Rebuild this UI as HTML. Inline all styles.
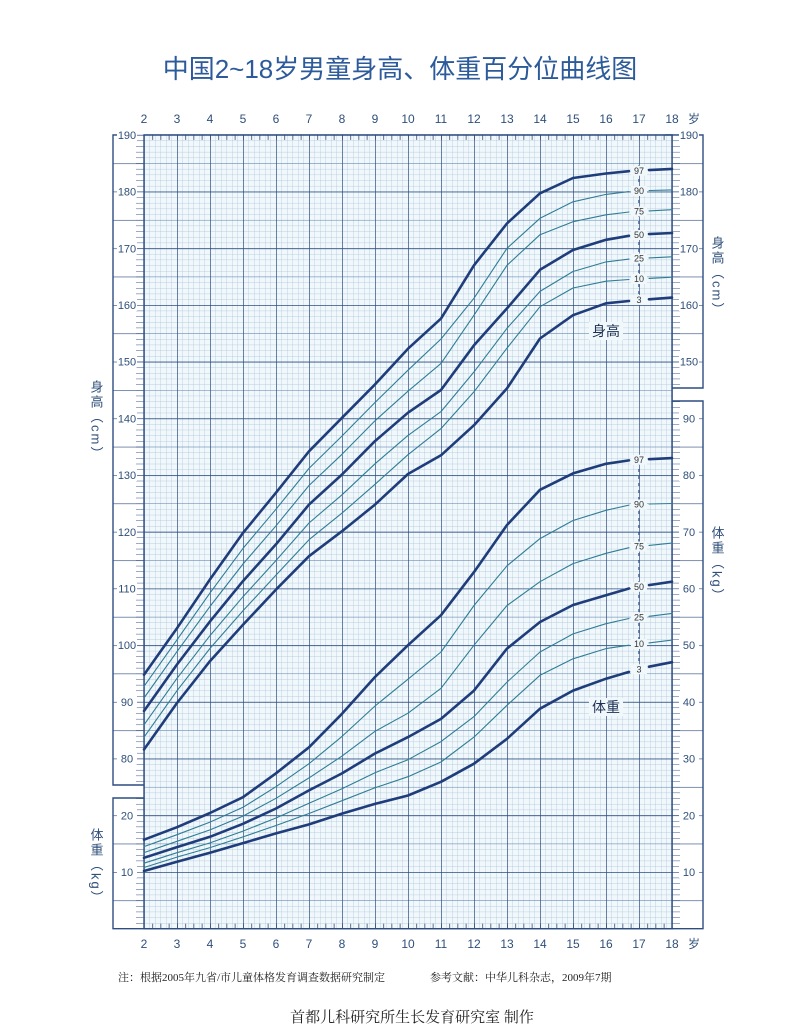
<!DOCTYPE html>
<html><head><meta charset="utf-8"><style>
html,body{margin:0;padding:0;background:#fff;}
svg{display:block;}
.t{font-family:"Liberation Sans","Noto Sans CJK SC",sans-serif;fill:#2f4f7a;}
.ax{font-size:12px;}
.sm{font-size:11px;}
.pl{font-size:9px;fill:#333;font-family:"Liberation Sans",sans-serif;}
.cn{font-family:"Liberation Serif","Noto Serif CJK SC","Noto Sans CJK SC",serif;fill:#222;}
.b{stroke:#1f3d7a;stroke-width:2.6;fill:none;stroke-linejoin:round;stroke-linecap:round;}
.n{stroke:#2f7d96;stroke-width:1.1;fill:none;stroke-linejoin:round;stroke-linecap:round;}
</style></head><body>
<svg width="800" height="1036" viewBox="0 0 800 1036" xmlns="http://www.w3.org/2000/svg">
<defs>
<pattern id="minor" patternUnits="userSpaceOnUse" x="144" y="928.7" width="5.5" height="5.67">
<path d="M0 0V5.67M0 0H5.5" stroke="#a8c0d8" stroke-width="0.7" fill="none"/></pattern>
<pattern id="mid" patternUnits="userSpaceOnUse" x="144" y="928.7" width="528" height="28.35">
<path d="M0 0H528" stroke="#5f82ad" stroke-width="1" fill="none"/></pattern>
<pattern id="major" patternUnits="userSpaceOnUse" x="144" y="928.7" width="33" height="56.7">
<path d="M0 0V56.7M0 0H33" stroke="#2d4d80" stroke-width="1.4" fill="none"/></pattern>
<pattern id="qt" patternUnits="userSpaceOnUse" x="144" y="0" width="8.25" height="10">
<path d="M0 0V10" stroke="#1d3566" stroke-width="1.4"/></pattern>
<pattern id="tk" patternUnits="userSpaceOnUse" x="0" y="928.7" width="40" height="5.67">
<path d="M0 0H40" stroke="#2d4d80" stroke-width="0.9"/></pattern>
<pattern id="tk5" patternUnits="userSpaceOnUse" x="0" y="928.7" width="40" height="28.35">
<path d="M0 0H40" stroke="#2d4d80" stroke-width="1.2"/></pattern>
</defs>
<rect width="800" height="1036" fill="#fff"/>
<rect x="144" y="134.9" width="528" height="793.8" fill="#f1f8fb"/>
<rect x="144" y="134.9" width="528" height="793.8" fill="url(#minor)"/>
<rect x="144" y="134.9" width="528" height="793.8" fill="url(#mid)"/>
<rect x="144" y="134.9" width="529" height="794.5" fill="url(#major)"/>
<rect x="145" y="134.9" width="527" height="5" fill="url(#qt)"/>
<rect x="145" y="923.7" width="527" height="5" fill="url(#qt)"/>

<!-- axis ticks -->
<rect x="136" y="134" width="8" height="651" fill="url(#tk)"/>
<rect x="113" y="134" width="31" height="651" fill="url(#tk5)"/>
<rect x="136" y="798" width="8" height="130" fill="url(#tk)"/>
<rect x="113" y="798" width="31" height="130" fill="url(#tk5)"/>
<rect x="672" y="134" width="8" height="254" fill="url(#tk)"/>
<rect x="672" y="134" width="31" height="254" fill="url(#tk5)"/>
<rect x="672" y="401" width="8" height="527" fill="url(#tk)"/>
<rect x="672" y="401" width="31" height="527" fill="url(#tk5)"/>

<g stroke="#2d4d80" stroke-width="1.4" fill="none">
<path d="M120 134.9H113V785H144"/>
<path d="M144 798H113V928.7H144"/>
<path d="M665 134.9H703V388H672"/>
<path d="M672 401H703V928.7H672"/>
<rect x="144" y="134.9" width="528" height="793.8"/>
</g>

<g class="t sm" text-anchor="middle">
<g fill="#fff">
<rect x="117" y="129" width="20" height="12"/><rect x="117" y="185.6" width="20" height="12"/><rect x="117" y="242.3" width="20" height="12"/><rect x="117" y="299" width="20" height="12"/><rect x="117" y="355.7" width="20" height="12"/><rect x="117" y="412.4" width="20" height="12"/><rect x="117" y="469.1" width="20" height="12"/><rect x="117" y="525.8" width="20" height="12"/><rect x="117" y="582.5" width="20" height="12"/><rect x="117" y="639.2" width="20" height="12"/><rect x="117" y="695.9" width="20" height="12"/><rect x="117" y="752.6" width="20" height="12"/><rect x="117" y="809.3" width="20" height="12"/><rect x="117" y="866" width="20" height="12"/>
<rect x="679" y="129" width="20" height="12"/><rect x="679" y="185.6" width="20" height="12"/><rect x="679" y="242.3" width="20" height="12"/><rect x="679" y="299" width="20" height="12"/><rect x="679" y="355.7" width="20" height="12"/><rect x="679" y="412.4" width="20" height="12"/><rect x="679" y="469.1" width="20" height="12"/><rect x="679" y="525.8" width="20" height="12"/><rect x="679" y="582.5" width="20" height="12"/><rect x="679" y="639.2" width="20" height="12"/><rect x="679" y="695.9" width="20" height="12"/><rect x="679" y="752.6" width="20" height="12"/><rect x="679" y="809.3" width="20" height="12"/><rect x="679" y="866" width="20" height="12"/>
</g>
<text x="127" y="138.9">190</text><text x="127" y="195.6">180</text><text x="127" y="252.3">170</text><text x="127" y="309">160</text><text x="127" y="365.7">150</text><text x="127" y="422.4">140</text><text x="127" y="479.1">130</text><text x="127" y="535.8">120</text><text x="127" y="592.5">110</text><text x="127" y="649.2">100</text><text x="127" y="705.9">90</text><text x="127" y="762.6">80</text>
<text x="127" y="819.3">20</text><text x="127" y="876">10</text>
<text x="689" y="138.9">190</text><text x="689" y="195.6">180</text><text x="689" y="252.3">170</text><text x="689" y="309">160</text><text x="689" y="365.7">150</text>
<text x="689" y="422.4">90</text><text x="689" y="479.1">80</text><text x="689" y="535.8">70</text><text x="689" y="592.5">60</text><text x="689" y="649.2">50</text><text x="689" y="705.9">40</text><text x="689" y="762.6">30</text><text x="689" y="819.3">20</text><text x="689" y="876">10</text>
</g>

<text x="400" y="78" text-anchor="middle" font-size="26" fill="#2c5a9a" font-family="Liberation Sans,'Noto Sans CJK SC',sans-serif">中国2~18岁男童身高、体重百分位曲线图</text>

<g class="t ax" text-anchor="middle">
<text x="144" y="123">2</text><text x="177" y="123">3</text><text x="210" y="123">4</text><text x="243" y="123">5</text><text x="276" y="123">6</text><text x="309" y="123">7</text><text x="342" y="123">8</text><text x="375" y="123">9</text><text x="408" y="123">10</text><text x="441" y="123">11</text><text x="474" y="123">12</text><text x="507" y="123">13</text><text x="540" y="123">14</text><text x="573" y="123">15</text><text x="606" y="123">16</text><text x="639" y="123">17</text><text x="672" y="123">18</text><text x="694" y="123">岁</text>
<text x="144" y="948">2</text><text x="177" y="948">3</text><text x="210" y="948">4</text><text x="243" y="948">5</text><text x="276" y="948">6</text><text x="309" y="948">7</text><text x="342" y="948">8</text><text x="375" y="948">9</text><text x="408" y="948">10</text><text x="441" y="948">11</text><text x="474" y="948">12</text><text x="507" y="948">13</text><text x="540" y="948">14</text><text x="573" y="948">15</text><text x="606" y="948">16</text><text x="639" y="948">17</text><text x="672" y="948">18</text><text x="694" y="948">岁</text>
</g>

<g class="t" font-size="13">
<text x="96" y="380" style="writing-mode:vertical-rl;letter-spacing:2px">身高（cm）</text>
<text x="96" y="828" style="writing-mode:vertical-rl;letter-spacing:2px">体重（kg）</text>
<text x="717" y="236" style="writing-mode:vertical-rl;letter-spacing:2px">身高（cm）</text>
<text x="717" y="526" style="writing-mode:vertical-rl;letter-spacing:2px">体重（kg）</text>
</g>

<!-- height curves -->
<polyline class="n" points="144,737.2 177,690.7 210,648.4 243,610.8 276,575.1 309,539.7 342,513.1 375,484.3 408,454.7 441,428.6 474,391.8 507,348.1 540,306.7 573,288.0 606,281.2 629,279.5"/>
<polyline class="n" points="144,724.8 177,678.3 210,635.6 243,596.7 276,560.5 309,523.0 342,494.8 375,463.8 408,435.4 441,411.6 474,371.9 507,328.3 540,291.4 573,271.5 606,261.9 629,259.1"/>
<polyline class="n" points="144,698.0 177,651.6 210,606.4 243,564.0 276,525.8 309,485.5 342,454.3 375,420.8 408,391.2 441,363.4 474,315.2 507,265.3 540,234.7 573,221.7 606,214.8 629,212.0"/>
<polyline class="n" points="144,686.3 177,639.8 210,592.9 243,548.4 276,509.2 309,468.4 342,436.0 375,402.5 408,370.2 441,339.0 474,298.2 507,248.3 540,218.3 573,201.8 606,194.4 629,191.6"/>
<polyline class="b" points="144,749.5 177,703.0 210,661.1 243,624.8 276,589.6 309,556.2 342,531.2 375,504.6 408,474.0 441,455.3 474,425.2 507,388.4 540,338.5 573,315.2 606,303.3 629,301.0"/>
<polyline class="b" points="144,711.0 177,664.5 210,621.4 243,581.1 276,544.3 309,504.6 342,474.5 375,441.1 408,412.7 441,390.0 474,345.3 507,308.4 540,269.8 573,250.0 606,239.8 629,235.8"/>
<polyline class="b" points="144,674.7 177,628.2 210,579.4 243,532.9 276,492.7 309,451.3 342,417.8 375,384.4 408,348.7 441,318.6 474,265.3 507,223.4 540,193.3 573,178.0 606,173.5 629,171.2"/>
<line class="b" x1="649" y1="299.3" x2="672" y2="297.6"/>
<line class="n" x1="649" y1="278.4" x2="672" y2="277.2"/>
<line class="n" x1="649" y1="257.9" x2="672" y2="256.8"/>
<line class="b" x1="649" y1="234.1" x2="672" y2="233.0"/>
<line class="n" x1="649" y1="210.9" x2="672" y2="209.7"/>
<line class="n" x1="649" y1="190.5" x2="672" y2="189.9"/>
<line class="b" x1="649" y1="170.1" x2="672" y2="168.9"/>

<!-- weight curves -->
<polyline class="n" points="144,867.5 177,857.1 210,847.6 243,836.9 276,825.5 309,813.5 342,800.7 375,787.8 408,776.7 441,762.0 474,737.1 507,705.3 540,675.3 573,658.8 606,648.6 629,645.2"/>
<polyline class="n" points="144,863.2 177,852.7 210,842.9 243,831.1 276,818.0 309,803.3 342,788.7 375,772.7 408,759.7 441,741.6 474,716.6 507,682.1 540,652.0 573,633.9 606,623.7 629,618.5"/>
<polyline class="n" points="144,852.6 177,841.3 210,829.9 243,816.1 276,798.3 309,777.9 342,756.1 375,731.3 408,713.2 441,688.3 474,645.2 507,605.5 540,581.7 573,563.6 606,553.3 629,547.7"/>
<polyline class="n" points="144,846.6 177,834.7 210,822.1 243,807.3 276,786.7 309,763.7 342,736.4 375,706.0 408,679.2 441,652.0 474,605.5 507,565.8 540,538.6 573,520.5 606,510.3 629,505.1"/>
<polyline class="b" points="144,871.0 177,861.8 210,852.7 243,843.1 276,833.4 309,824.4 342,813.6 375,803.9 408,795.5 441,781.8 474,763.7 507,738.8 540,708.7 573,690.6 606,678.7 629,671.9"/>
<polyline class="b" points="144,857.8 177,847.1 210,836.8 243,823.8 276,808.5 309,790.4 342,773.4 375,753.5 408,737.1 441,718.9 474,690.6 507,648.6 540,622.0 573,605.0 606,595.3 629,588.5"/>
<polyline class="b" points="144,839.7 177,827.2 210,813.0 243,797.2 276,773.3 309,747.3 342,713.8 375,677.0 408,645.2 441,615.2 474,572.1 507,525.0 540,489.8 573,473.4 606,463.8 629,460.4"/>
<line class="b" x1="649" y1="666.7" x2="672" y2="662.2"/>
<line class="n" x1="649" y1="642.9" x2="672" y2="640.1"/>
<line class="n" x1="649" y1="616.3" x2="672" y2="613.4"/>
<line class="b" x1="649" y1="585.1" x2="672" y2="581.7"/>
<line class="n" x1="649" y1="545.4" x2="672" y2="543.1"/>
<line class="n" x1="649" y1="504.0" x2="672" y2="503.5"/>
<line class="b" x1="649" y1="459.2" x2="672" y2="458.1"/>

<!-- percentile labels -->
<line x1="639" y1="165" x2="639" y2="305" stroke="#1f3d7a" stroke-width="1.2" stroke-dasharray="3 4"/>
<line x1="639" y1="455" x2="639" y2="674" stroke="#1f3d7a" stroke-width="1.2" stroke-dasharray="3 4"/>
<g fill="#f1f8fb">
<rect x="631" y="165.7" width="16" height="10"/><rect x="631" y="186" width="16" height="10"/><rect x="631" y="206.5" width="16" height="10"/><rect x="631" y="230" width="16" height="10"/><rect x="631" y="253.5" width="16" height="10"/><rect x="631" y="274" width="16" height="10"/><rect x="631" y="295" width="16" height="10"/>
<rect x="631" y="454.8" width="16" height="10"/><rect x="631" y="499.5" width="16" height="10"/><rect x="631" y="541.5" width="16" height="10"/><rect x="631" y="581.8" width="16" height="10"/><rect x="631" y="612.4" width="16" height="10"/><rect x="631" y="639" width="16" height="10"/><rect x="631" y="664.3" width="16" height="10"/>
</g>
<g class="pl" text-anchor="middle">
<text x="639" y="173.9">97</text><text x="639" y="194.2">90</text><text x="639" y="214.7">75</text><text x="639" y="238.2">50</text><text x="639" y="261.7">25</text><text x="639" y="282.2">10</text><text x="639" y="303.2">3</text>
<text x="639" y="463">97</text><text x="639" y="507.7">90</text><text x="639" y="549.7">75</text><text x="639" y="590">50</text><text x="639" y="620.6">25</text><text x="639" y="647.2">10</text><text x="639" y="672.5">3</text>
</g>

<rect x="589" y="322" width="34" height="18" fill="#f1f8fb"/>
<text x="606" y="336" text-anchor="middle" font-size="14" class="t" style="fill:#1c2f55">身高</text>
<rect x="589" y="698" width="34" height="18" fill="#f1f8fb"/>
<text x="606" y="712" text-anchor="middle" font-size="14" class="t" style="fill:#1c2f55">体重</text>

<text x="118" y="981" font-size="11" class="cn">注：根据2005年九省/市儿童体格发育调查数据研究制定</text>
<text x="430" y="981" font-size="11" class="cn">参考文献：中华儿科杂志，2009年7期</text>
<text x="412" y="1022" text-anchor="middle" font-size="15" class="cn">首都儿科研究所生长发育研究室 制作</text>
</svg>
</body></html>
